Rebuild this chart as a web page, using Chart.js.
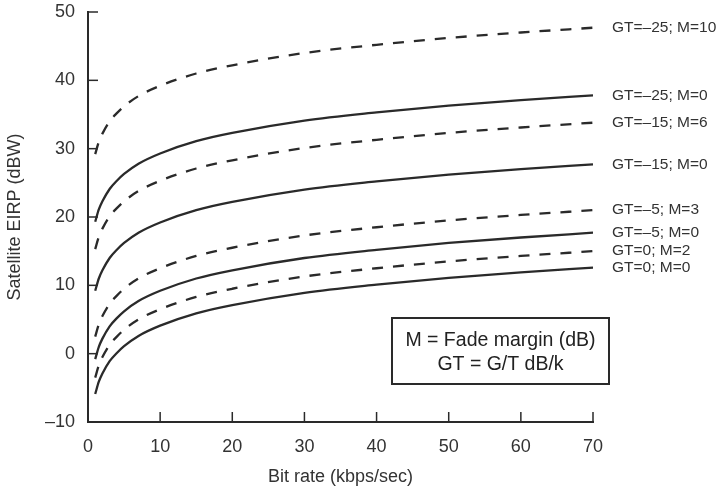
<!DOCTYPE html>
<html>
<head>
<meta charset="utf-8">
<script src="https://cdn.jsdelivr.net/npm/chart.js@4/dist/chart.umd.min.js"></script>
<style>
  html, body { margin: 0; padding: 0; background: #fff; }
  #wrap { width: 721px; height: 496px; }
</style>
</head>
<body>
<div id="wrap"><canvas id="EirpChart"></canvas></div>
<script>
// Bit rate sample points (kbps/sec)
const bitRates = [1, 1.5, 2, 3, 4, 5, 7, 10, 15, 20, 30, 40, 50, 60, 70];

// Satellite EIRP (dBW)
const gt25m10 = [29.2, 31.0, 32.2, 34.0, 35.2, 36.2, 37.7, 39.2, 41.0, 42.2, 44.0, 45.2, 46.2, 47.0, 47.7];
const gt25m0  = [19.3, 21.1, 22.3, 24.1, 25.3, 26.3, 27.8, 29.3, 31.1, 32.3, 34.1, 35.3, 36.3, 37.1, 37.8];
const gt15m6  = [15.3, 17.1, 18.3, 20.1, 21.3, 22.3, 23.8, 25.3, 27.1, 28.3, 30.1, 31.3, 32.3, 33.1, 33.8];
const gt15m0  = [9.2, 11.0, 12.2, 14.0, 15.2, 16.2, 17.7, 19.2, 21.0, 22.2, 24.0, 25.2, 26.2, 27.0, 27.7];
const gt5m3   = [2.5, 4.3, 5.5, 7.3, 8.5, 9.5, 11.0, 12.5, 14.3, 15.5, 17.3, 18.5, 19.5, 20.3, 21.0];
const gt5m0   = [-0.8, 1.0, 2.2, 4.0, 5.2, 6.2, 7.7, 9.2, 11.0, 12.2, 14.0, 15.2, 16.2, 17.0, 17.7];
const gt0m2   = [-3.5, -1.7, -0.5, 1.3, 2.5, 3.5, 5.0, 6.5, 8.3, 9.5, 11.3, 12.5, 13.5, 14.3, 15.0];
const gt0m0   = [-5.9, -4.1, -2.9, -1.1, 0.1, 1.1, 2.6, 4.1, 5.9, 7.1, 8.9, 10.1, 11.1, 11.9, 12.6];

const curveLabels = ['GT=\u201325; M=10', 'GT=\u201325; M=0', 'GT=\u201315; M=6', 'GT=\u201315; M=0',
                     'GT=\u20135; M=3', 'GT=\u20135; M=0', 'GT=0; M=2', 'GT=0; M=0'];
const curveValues = [gt25m10, gt25m0, gt15m6, gt15m0, gt5m3, gt5m0, gt0m2, gt0m0];
const curveDashed = [true, false, true, false, true, false, true, false];

const xTicks = [0, 10, 20, 30, 40, 50, 60, 70];
const yTicks = [-10, 0, 10, 20, 30, 40, 50];

const boxLines = ['M = Fade margin (dB)', 'GT = G/T dB/k'];

const ink = '#2a2a2a';
const fontFamily = '"Liberation Sans", Arial, Helvetica, sans-serif';

// inward ticks, curve end labels and the note box
const annotate = {
    id: 'annotate',
    afterDatasetsDraw(chart) {
        const ctx = chart.ctx;
        const xs = chart.scales.x, ys = chart.scales.y;
        const area = chart.chartArea;
        ctx.save();
        ctx.strokeStyle = ink;
        ctx.lineWidth = 1.5;
        yTicks.forEach(v => {
            const py = ys.getPixelForValue(v);
            ctx.beginPath();
            ctx.moveTo(area.left, py);
            ctx.lineTo(area.left + 10, py);
            ctx.stroke();
        });
        xTicks.forEach(v => {
            const px = xs.getPixelForValue(v);
            ctx.beginPath();
            ctx.moveTo(px, area.bottom);
            ctx.lineTo(px, area.bottom - 10);
            ctx.stroke();
        });

        ctx.fillStyle = '#333';
        ctx.font = '15.5px ' + fontFamily;
        ctx.textBaseline = 'middle';
        ctx.textAlign = 'left';
        chart.data.datasets.forEach((ds, i) => {
            const last = ds.data[ds.data.length - 1];
            const px = xs.getPixelForValue(last.x);
            const py = ys.getPixelForValue(last.y);
            ctx.fillText(curveLabels[i], px + 19, py);
        });

        // note box
        const bx = 392, by = 318, bw = 217, bh = 66;
        ctx.fillStyle = '#fff';
        ctx.fillRect(bx, by, bw, bh);
        ctx.lineWidth = 2;
        ctx.strokeRect(bx, by, bw, bh);
        ctx.fillStyle = '#222';
        ctx.font = '19.5px ' + fontFamily;
        ctx.textAlign = 'center';
        ctx.fillText(boxLines[0], bx + bw / 2, 341);
        ctx.fillText(boxLines[1], bx + bw / 2, 365);
        ctx.restore();
    }
};

const ctx = document.getElementById('EirpChart').getContext('2d');
new Chart(ctx, {
    type: 'line',
    data: {
        datasets: curveValues.map((vals, i) => ({
            label: curveLabels[i],
            data: bitRates.map((r, j) => ({ x: r, y: vals[j] })),
            borderColor: ink,
            borderWidth: 2.3,
            borderDash: curveDashed[i] ? [11, 10] : [],
            pointRadius: 0,
            fill: false,
            cubicInterpolationMode: 'monotone'
        }))
    },
    options: {
        responsive: true,
        maintainAspectRatio: false,
        animation: false,
        layout: { padding: { left: 4, right: 128, top: 12, bottom: 6 } },
        plugins: {
            legend: { display: false },
            tooltip: { enabled: false }
        },
        scales: {
            x: {
                type: 'linear',
                min: 0,
                max: 70,
                afterBuildTicks: (scale) => { scale.ticks = xTicks.map(v => ({ value: v })); },
                afterFit: (scale) => {
                    scale.height = 496 - 422 - 6;
                    scale.paddingLeft = 0;
                    scale.paddingRight = 0;
                },
                grid: { drawOnChartArea: false, drawTicks: false },
                border: { display: true, color: ink, width: 2 },
                ticks: {
                    padding: 14,
                    color: '#333',
                    font: { size: 18, family: fontFamily }
                },
                title: {
                    display: true,
                    text: 'Bit rate (kbps/sec)',
                    color: '#333',
                    padding: { top: 4, bottom: 2 },
                    font: { size: 18, family: fontFamily }
                }
            },
            y: {
                min: -10,
                max: 50,
                afterBuildTicks: (scale) => { scale.ticks = yTicks.map(v => ({ value: v })); },
                afterFit: (scale) => {
                    scale.width = 88 - 4;
                    scale.paddingTop = 0;
                    scale.paddingBottom = 0;
                },
                grid: { drawOnChartArea: false, drawTicks: false },
                border: { display: true, color: ink, width: 2 },
                ticks: {
                    padding: 13,
                    color: '#333',
                    font: { size: 18, family: fontFamily },
                    callback: (v) => String(v).replace('-', '\u2013')
                },
                title: {
                    display: true,
                    text: 'Satellite EIRP (dBW)',
                    color: '#333',
                    padding: 0,
                    font: { size: 18, family: fontFamily }
                }
            }
        }
    },
    plugins: [annotate]
});
</script>
</body>
</html>
